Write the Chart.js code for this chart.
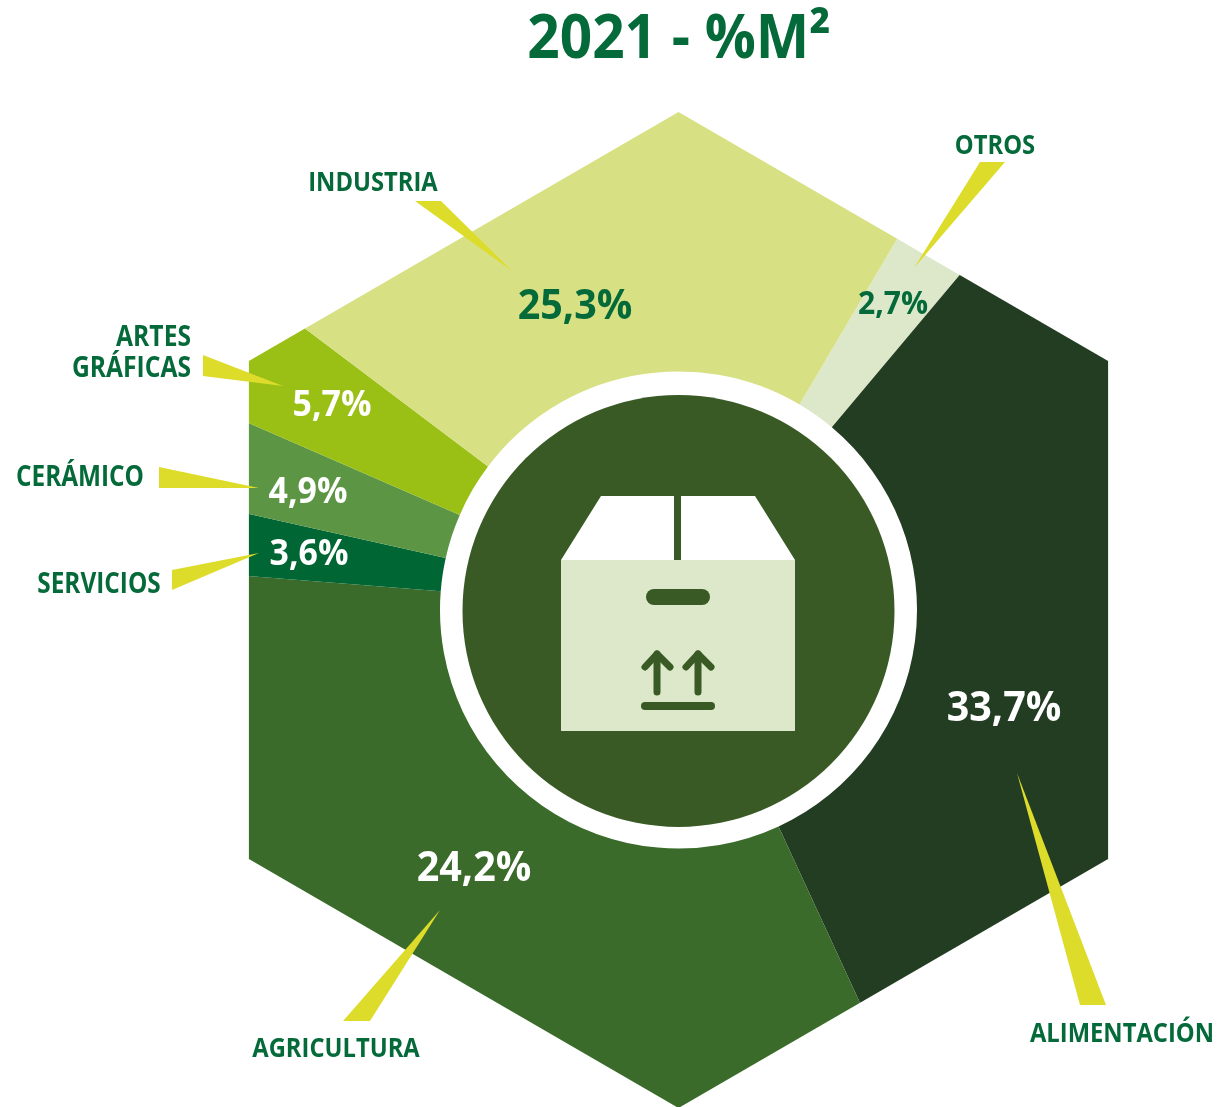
<!DOCTYPE html>
<html>
<head>
<meta charset="utf-8">
<title>2021 - %M²</title>
<script src="https://cdn.jsdelivr.net/npm/chart.js@4"></script>
<style>
    html, body { margin: 0; padding: 0; background: #fff; }
    #wrap { width: 1217px; height: 1107px; overflow: hidden; }
    canvas { display: block; }
</style>
</head>
<body>
<div id="wrap"><canvas id="chart" width="1217" height="1107"></canvas></div>
<script>
// slices go clockwise, starting at the otros / industria edge
const categories = ["OTROS", "ALIMENTACIÓN", "AGRICULTURA", "SERVICIOS", "CERÁMICO", "ARTES GRÁFICAS", "INDUSTRIA"];
// printed percentages
const percentages = [2.7, 33.7, 24.2, 3.6, 4.9, 5.7, 25.3];
// the picture's slices do not follow the printed numbers, so sweep in degrees is read off separately
const sweepDegrees = [9.5, 115.2, 119.3, 8.1, 10.9, 13.5, 83.5];
const sliceColors = ["#dde8ca", "#233d22", "#3a6b2a", "#006633", "#5c9644", "#9abf15", "#d8e084"];

const GREEN_TEXT = "#056a39";
const POINTER = "#dddc2b";
const CENTER_DARK = "#395a25";
const BOX_LIGHT = "#dde8ca";
const HEX_HALF_HEIGHT = 498;
const HEX_HALF_WIDTH = 429.6;
const RING_RADIUS = 238.5;
const DISC_RADIUS = 216;
const OUTER_RADIUS = 520;

// text layout, same order as categories
const percentStyle = [
    { x: 893, y: 305, size: 32, color: GREEN_TEXT },
    { x: 1004, y: 709, size: 42, color: "#fff" },
    { x: 474, y: 869, size: 42, color: "#fff" },
    { x: 309, y: 555, size: 36, color: "#fff" },
    { x: 308, y: 493, size: 36, color: "#fff" },
    { x: 332, y: 406, size: 36, color: "#fff" },
    { x: 575, y: 307, size: 42, color: GREEN_TEXT }
];
const labelStyle = [
    { lines: ["OTROS"], x: 995, y: 146, align: "center", size: 27 },
    { lines: ["ALIMENTACIÓN"], x: 1122, y: 1034, align: "center", size: 27 },
    { lines: ["AGRICULTURA"], x: 336, y: 1049, align: "center", size: 27 },
    { lines: ["SERVICIOS"], x: 99, y: 585, align: "center", size: 27.7 },
    { lines: ["CERÁMICO"], x: 80, y: 478, align: "center", size: 27.7 },
    { lines: ["ARTES", "GRÁFICAS"], x: 191, y: 338, align: "right", size: 28 },
    { lines: ["INDUSTRIA"], x: 373, y: 183, align: "center", size: 27 }
];
// yellow wedges: two base corners and the tip
const pointers = [
    [[980, 162], [1005, 162], [914, 268]],
    [[1080, 1005], [1106, 1005], [1017, 773]],
    [[343, 1021], [370, 1021], [440, 910]],
    [[172, 570], [172, 590], [259, 553]],
    [[159, 467], [159, 488], [259, 488]],
    [[203, 355], [203, 376], [283, 386]],
    [[415, 201], [441, 201], [512, 271]]
];

function drawText(ctx, text, x, y, size, color, opts) {
    const o = opts || {};
    ctx.save();
    ctx.translate(x, y);
    ctx.scale(o.squeeze || 0.88, 1);
    ctx.font = "700 " + size + "px 'Open Sans'";
    ctx.fillStyle = color;
    ctx.textAlign = o.align || "center";
    ctx.textBaseline = "middle";
    ctx.fillText(text, 0, 0);
    ctx.restore();
}

function polygon(ctx, pts, color) {
    ctx.fillStyle = color;
    ctx.beginPath();
    pts.forEach((p, i) => i ? ctx.lineTo(p[0], p[1]) : ctx.moveTo(p[0], p[1]));
    ctx.closePath();
    ctx.fill();
}

function strokeLine(ctx, pts, width, color) {
    ctx.strokeStyle = color;
    ctx.lineWidth = width;
    ctx.lineCap = "round";
    ctx.lineJoin = "round";
    ctx.beginPath();
    pts.forEach((p, i) => i ? ctx.lineTo(p[0], p[1]) : ctx.moveTo(p[0], p[1]));
    ctx.stroke();
}

//Box icon in the middle
function drawBox(ctx) {
    polygon(ctx, [[601, 496], [755, 496], [795, 560], [561, 560]], "#fff");
    polygon(ctx, [[561, 560], [795, 560], [795, 731], [561, 731]], BOX_LIGHT);
    polygon(ctx, [[674, 496], [681, 496], [681, 560], [674, 560]], CENTER_DARK);
    strokeLine(ctx, [[654, 597], [702, 597]], 16, CENTER_DARK);
    strokeLine(ctx, [[657, 692], [657, 654]], 7, CENTER_DARK);
    strokeLine(ctx, [[645, 667], [657, 654], [670, 667]], 7, CENTER_DARK);
    strokeLine(ctx, [[698, 692], [698, 654]], 7, CENTER_DARK);
    strokeLine(ctx, [[686, 667], [698, 654], [711, 667]], 7, CENTER_DARK);
    strokeLine(ctx, [[645, 706], [711, 706]], 8, CENTER_DARK);
}

const hexagonClip = {
    id: "hexagonClip",
    beforeDatasetsDraw(chart) {
        const arc = chart.getDatasetMeta(0).data[0];
        const ctx = chart.ctx;
        const w = HEX_HALF_WIDTH;
        const h = HEX_HALF_HEIGHT;
        ctx.save();
        ctx.beginPath();
        ctx.moveTo(arc.x, arc.y - h);
        ctx.lineTo(arc.x + w, arc.y - h / 2);
        ctx.lineTo(arc.x + w, arc.y + h / 2);
        ctx.lineTo(arc.x, arc.y + h);
        ctx.lineTo(arc.x - w, arc.y + h / 2);
        ctx.lineTo(arc.x - w, arc.y - h / 2);
        ctx.closePath();
        ctx.clip();
    },
    afterDatasetsDraw(chart) {
        chart.ctx.restore();
    }
};

const decorations = {
    id: "decorations",
    afterDraw(chart) {
        const ctx = chart.ctx;
        const arc = chart.getDatasetMeta(0).data[0];

        ctx.fillStyle = CENTER_DARK;
        ctx.beginPath();
        ctx.arc(arc.x, arc.y + 1, DISC_RADIUS, 0, Math.PI * 2);
        ctx.fill();
        drawBox(ctx);

        pointers.forEach(p => polygon(ctx, p, POINTER));

        drawText(ctx, "2021 - %M²", 679, 41, 60, GREEN_TEXT, { squeeze: 0.945 });

        categories.forEach((_, i) => {
            const pct = percentStyle[i];
            const text = percentages[i].toFixed(1).replace(".", ",") + "%";
            drawText(ctx, text, pct.x, pct.y, pct.size, pct.color, { squeeze: 0.94 });

            const lab = labelStyle[i];
            lab.lines.forEach((line, n) => {
                drawText(ctx, line, lab.x, lab.y + n * 31, lab.size, GREEN_TEXT, { align: lab.align });
            });
        });
    }
};

new Chart(document.getElementById("chart"), {
    type: "doughnut",
    data: {
        labels: categories,
        datasets: [{
            data: sweepDegrees,
            backgroundColor: sliceColors,
            borderWidth: 0,
            clip: false
        }]
    },
    options: {
        responsive: false,
        animation: false,
        rotation: 30.5,
        radius: OUTER_RADIUS,
        cutout: (RING_RADIUS / OUTER_RADIUS * 100) + "%",
        layout: { padding: { left: 140, top: 113 } },
        plugins: {
            legend: { display: false },
            tooltip: { enabled: false }
        }
    },
    plugins: [hexagonClip, decorations]
});
</script>
</body>
</html>
